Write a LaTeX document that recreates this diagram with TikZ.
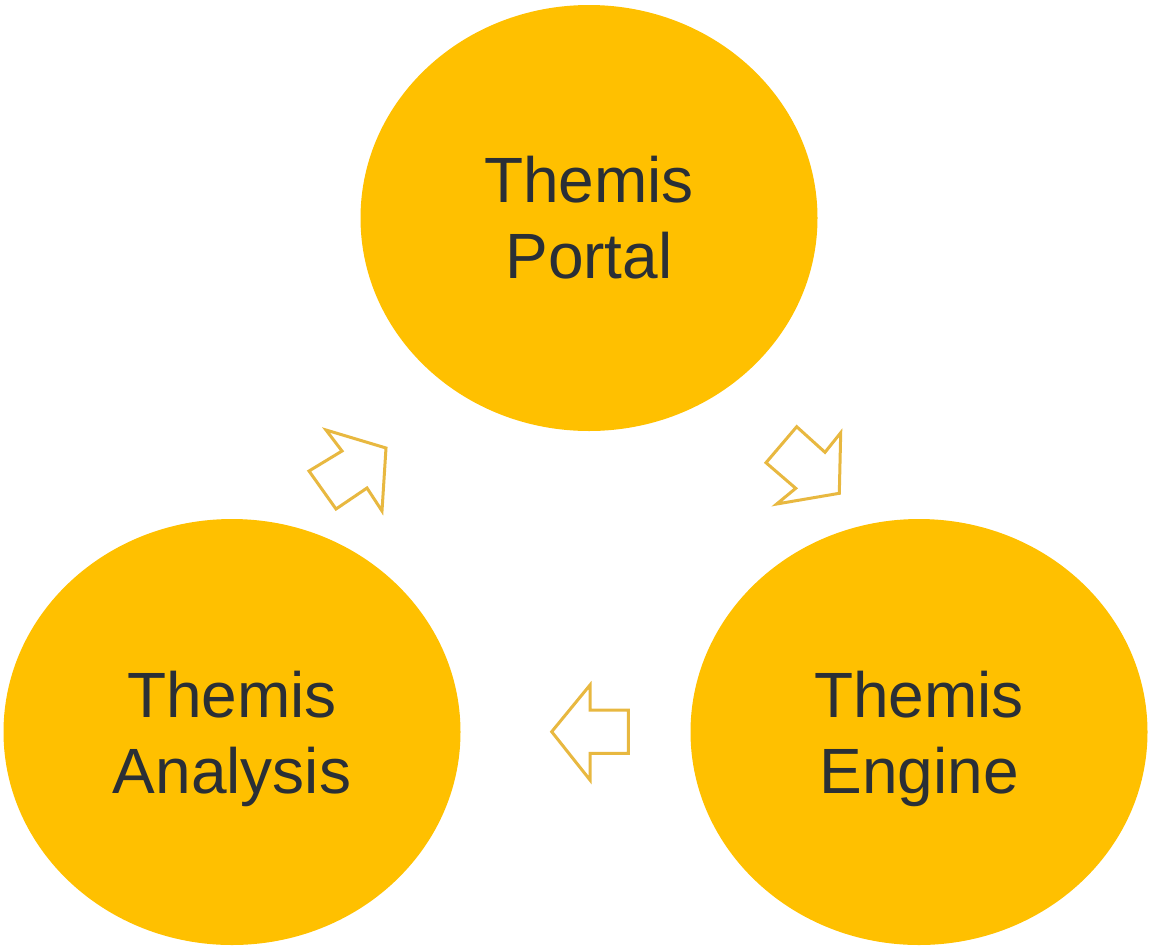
\documentclass[tikz,border=0pt]{standalone}
\usepackage{fontspec}
\setmainfont{Liberation Sans}
\usetikzlibrary{shapes.geometric}
\definecolor{gold}{HTML}{FFC000}
\definecolor{arrowgold}{HTML}{E8B840}
\definecolor{textdark}{HTML}{2A2F36}
\begin{document}
\begin{tikzpicture}[x=1pt,y=-1pt,
  bubble/.style={ellipse, fill=gold, draw=none, minimum width=457pt, minimum height=426pt, inner sep=0pt},
  lbl/.style={anchor=base, text=textdark, font=\fontsize{64}{76}\selectfont, inner sep=0pt},
  blockarrow/.style={draw=arrowgold, line width=3pt, line join=miter, fill=white}]
\useasboundingbox (0,0) rectangle (1150,948);
\node[bubble] (portal) at (589,218) {};
\node[bubble] (analysis) at (232,732) {};
\node[bubble] (engine) at (919,732) {};
\node[lbl] (portal1) at (589,202) {Themis};
\node[lbl] (portal2) at (589,278) {Portal};
\node[lbl] (analysis1) at (232,717) {Themis};
\node[lbl] (analysis2) at (232,793) {Analysis};
\node[lbl] (engine1) at (919,717) {Themis};
\node[lbl] (engine2) at (919,793) {Engine};
% arrow from analysis to portal
\draw[blockarrow] (326,430) -- (386,448) -- (382,511) -- (367,488) -- (336,509) -- (309,471) -- (342,451) -- cycle;
% arrow from portal to engine
\draw[blockarrow] (796.7,426.7) -- (825,452.3) -- (840.7,432.7) -- (839.3,493.3) -- (776.7,504) -- (795.7,488.3) -- (766,462.7) -- cycle;
% arrow from engine to analysis
\draw[blockarrow] (551.7,731.7) -- (590,685) -- (590,710) -- (628.3,710) -- (628.3,753.3) -- (590,753.3) -- (590,780) -- cycle;
\end{tikzpicture}
\end{document}
